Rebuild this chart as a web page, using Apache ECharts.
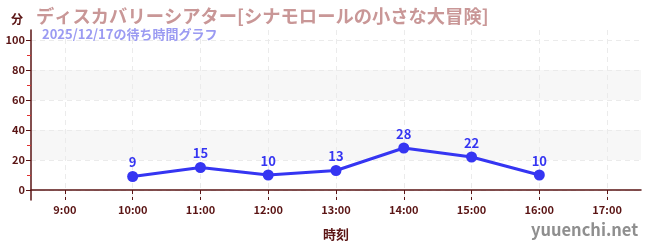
<!DOCTYPE html>
<html><head><meta charset="utf-8">
<script src="https://cdn.jsdelivr.net/npm/echarts@6/dist/echarts.min.js"></script>
<style>html,body{margin:0;padding:0;background:#fff}#c{width:650px;height:250px}</style>
</head><body><div id="c"></div>
<script>
const categories = ['9:00','10:00','11:00','12:00','13:00','14:00','15:00','16:00','17:00'];
const waitTimes = [null, 9, 15, 10, 13, 28, 22, 10, null];
const yTicks = [0, 20, 40, 60, 80, 100];
const titleText = 'ディスカバリーシアター[シナモロールの小さな大冒険]';
const subtitleText = '2025/12/17の待ち時間グラフ';
const yName = '分';
const xName = '時刻';
const siteText = 'yuuenchi.net';

const FONT = '"Noto Sans CJK JP", "Noto Sans", sans-serif';
const AX = '#5a1414';
// half-step slots (category boundaries and centres) for the grid lines
const halfSlots = [];
for (let i = 0; i <= categories.length * 2; i++) halfSlots.push(String(i));
const isCentre = (idx) => idx % 2 === 1;

const chart = echarts.init(document.getElementById('c'), null, {renderer: 'canvas'});
chart.setOption({
  animation: false,
  textStyle: {fontFamily: FONT},
  title: [{
    text: titleText, left: 31, top: 2,
    textStyle: {color: '#c99797', fontSize: 18.3, fontWeight: 'bold', fontFamily: FONT}
  }, {
    text: subtitleText, left: 37, top: 23,
    textStyle: {color: '#9b9bf2', fontSize: 13, fontWeight: 'bold', fontFamily: FONT}
  }],
  graphic: [{
    type: 'text', left: 531, top: 221,
    style: {text: siteText, fill: '#8f8f8f', fontSize: 16.5, fontWeight: 'bold', fontFamily: FONT}
  }],
  grid: [
    {left: 31, right: 9, top: 40, bottom: 60},
    {left: 31, right: 9, top: 30, bottom: 50}
  ],
  xAxis: [{
    type: 'category', gridIndex: 0, data: categories, offset: 10,
    boundaryGap: true,
    axisLine: {show: true, lineStyle: {color: AX, width: 1.5}},
    axisTick: {show: true, alignWithLabel: true, length: 4, lineStyle: {color: AX}},
    axisLabel: {color: AX, fontSize: 11, fontWeight: 'bold', fontFamily: FONT, margin: 4},
    splitLine: {show: false},
    name: xName, nameLocation: 'middle', nameGap: 28,
    nameTextStyle: {color: AX, fontSize: 13, fontWeight: 'bold', fontFamily: FONT}
  }, {
    type: 'category', gridIndex: 1, data: halfSlots, boundaryGap: false,
    axisLine: {show: false},
    axisTick: {show: true, inside: true, length: 3, interval: isCentre, lineStyle: {color: AX}},
    axisLabel: {show: false},
    splitLine: {show: true, interval: isCentre, lineStyle: {color: '#ebebeb', type: [5, 4]}}
  }],
  yAxis: [{
    type: 'value', gridIndex: 0, min: yTicks[0], max: yTicks[yTicks.length - 1], interval: 20,
    axisLine: {show: false},
    axisTick: {show: true, length: 5, lineStyle: {color: AX}},
    minorTick: {show: true, splitNumber: 2, length: 4, lineStyle: {color: '#e03030'}},
    axisLabel: {color: AX, fontSize: 11, fontWeight: 'bold', fontFamily: FONT, margin: 6},
    splitLine: {show: true, lineStyle: {color: '#ebebeb', type: [5, 4]}},
    splitArea: {show: true, areaStyle: {color: ['rgba(255,255,255,0)', '#f7f7f7']}}
  }, {
    type: 'value', gridIndex: 1, min: 0, max: 1,
    axisLine: {show: true, onZero: false, lineStyle: {color: AX, width: 1.5}},
    axisTick: {show: false}, axisLabel: {show: false}, splitLine: {show: false},
    name: yName, nameLocation: 'end', nameGap: 5,
    nameTextStyle: {color: AX, fontSize: 12, fontWeight: 'bold', fontFamily: FONT, align: 'right', padding: [0, 8, 0, 0]}
  }],
  series: [{
    type: 'line', xAxisIndex: 0, yAxisIndex: 0, data: waitTimes,
    connectNulls: false,
    symbol: 'circle', symbolSize: 11,
    lineStyle: {color: '#3535f2', width: 3},
    itemStyle: {color: '#3535f2'},
    label: {show: true, position: 'top', distance: 2, color: '#3535f2', fontSize: 13, fontWeight: 'bold', fontFamily: FONT}
  }]
});
</script></body></html>
